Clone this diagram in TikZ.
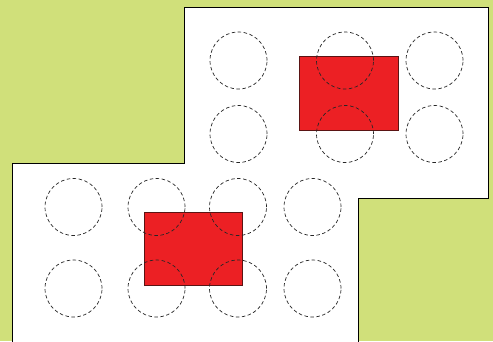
\documentclass[tikz,border=0pt]{standalone}
\definecolor{bgreen}{RGB}{208,224,122}
\definecolor{bred}{RGB}{236,32,36}
\definecolor{bredline}{RGB}{90,20,20}
\begin{document}
\begin{tikzpicture}[x=1pt,y=-1pt,
  slot/.style={circle,draw=black!85,dashed,dash pattern=on 3.5pt off 2.5pt,line width=0.7pt,minimum size=57pt,inner sep=0pt},
  block/.style={draw=bredline,fill=bred,line width=0.8pt}]
\useasboundingbox (0,0) rectangle (493,341);
\fill[bgreen] (0,0) rectangle (493,341);
\draw[fill=white,line width=1pt] (12,345) -- (12,163) -- (184,163) -- (184,7) -- (488,7) -- (488,198) -- (358,198) -- (358,345);
% red blocks
\fill[block] (299,56) rectangle (398,130);
\fill[block] (144,212) rectangle (242,285);
% upper grid
\node[slot] (u11) at (238.5,60.5) {};
\node[slot] (u12) at (345,60.5) {};
\node[slot] (u13) at (434.5,60.5) {};
\node[slot] (u21) at (238.5,134) {};
\node[slot] (u22) at (345,134) {};
\node[slot] (u23) at (434.5,134) {};
% lower grid
\node[slot] (l11) at (73.5,207) {};
\node[slot] (l12) at (156.5,207) {};
\node[slot] (l13) at (238,207) {};
\node[slot] (l14) at (312.5,207) {};
\node[slot] (l21) at (73.5,288.5) {};
\node[slot] (l22) at (156.5,288.5) {};
\node[slot] (l23) at (238,288.5) {};
\node[slot] (l24) at (312.5,288.5) {};
\end{tikzpicture}
\end{document}
